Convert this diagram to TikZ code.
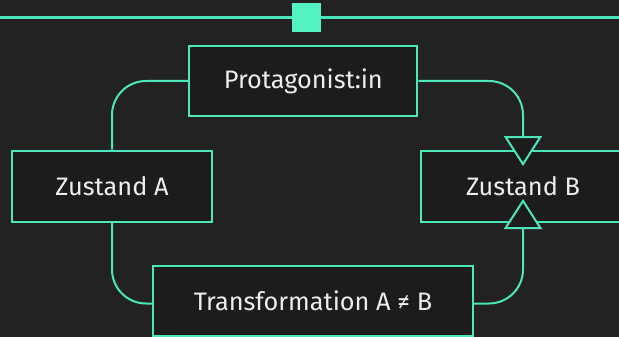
\documentclass[tikz,border=0pt]{standalone}
\usepackage{fontspec}
\setmainfont{Fira Sans}
\usetikzlibrary{arrows.meta}
\definecolor{bg}{HTML}{222222}
\definecolor{boxfill}{HTML}{1C1C1C}
\definecolor{mint}{HTML}{4BE6BA}
\definecolor{marker}{HTML}{52F2C2}
\definecolor{txt}{HTML}{EEEEEE}
\tikzset{
  stagebox/.style={draw=mint, line width=2pt, fill=boxfill, text=txt,
    font=\fontsize{25.3}{29}\selectfont, minimum height=70pt, inner sep=0pt},
  link/.style={draw=mint, line width=2pt, rounded corners=34pt},
  openhead/.style={-{Triangle[length=30pt,width=38pt,fill=boxfill,line width=2pt]}},
}
\begin{document}
\begin{tikzpicture}[x=1pt,y=-1pt]
  \useasboundingbox[fill=bg] (0,0) rectangle (619,337);

  % header rule with its marker
  \coordinate (ruleL) at (0,17.5);
  \coordinate (ruleR) at (619,17.5);
  \draw[mint, line width=2.5pt] (ruleL) -- (ruleR);
  \node[fill=marker, minimum size=29pt, inner sep=0pt] (mark) at (306.5,18) {};

  % stages
  \node[stagebox, minimum width=228pt] (prot) at (303.3,81) {Protagonist:in};
  \node[stagebox, minimum width=200.6pt, minimum height=71pt] (za) at (112,186) {Zustand A};
  \node[stagebox, minimum width=204pt, minimum height=71pt] (zb) at (523,186) {Zustand B};
  \node[stagebox, minimum width=319.4pt] (trans) at (313,301) {Transformation A ≠ B};

  % arrow tips overlapping the borders of Zustand B
  \coordinate (tipTop) at (523,166);
  \coordinate (tipBot) at (523,199);

  % connectors
  \draw[link] (prot.west) -| (za.north);
  \draw[link] (za.south) |- ([yshift=-2.5pt]trans.west);
  \draw[link, openhead] (prot.east) -| (tipTop);
  \draw[link, openhead] ([yshift=-2.5pt]trans.east) -| (tipBot);
\end{tikzpicture}
\end{document}
